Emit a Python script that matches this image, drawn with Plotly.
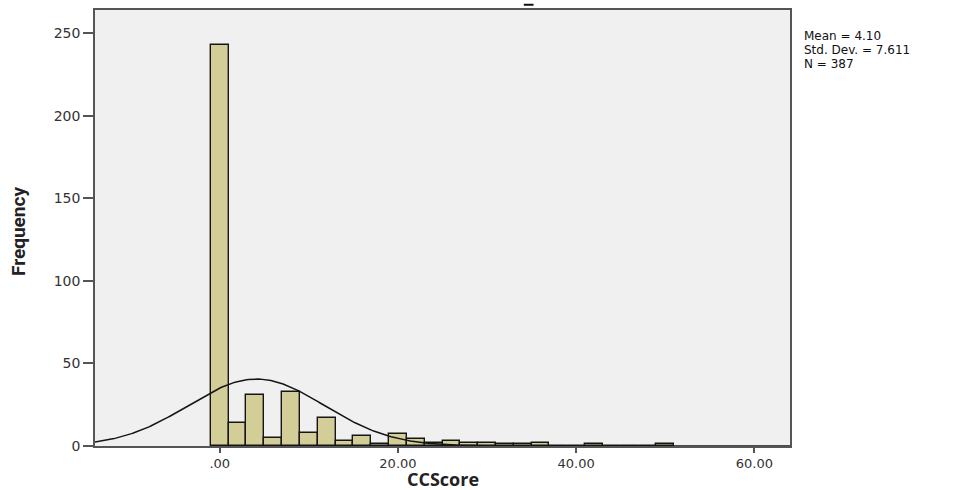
import numpy as np
import plotly.graph_objects as go

# Histogram of CCScore: bin centres (width 2) and frequencies
bin_centers = [0, 2, 4, 6, 8, 10, 12, 14, 16, 18, 20, 22, 24, 26, 28, 30,
               32, 34, 36, 38, 40, 42, 44, 46, 48, 50]
frequencies = [243, 14, 31, 5, 33, 8, 17, 3, 6, 1, 7, 4, 2, 3, 2, 2,
               1, 1, 2, 0, 0, 1, 0, 0, 0, 1]
bin_width = 2

# Summary statistics shown beside the chart
mean_value = 4.10
std_dev = 7.611
n_cases = 387

x_tick_values = [0, 20, 40, 60]
x_tick_labels = [".00", "20.00", "40.00", "60.00"]
y_tick_values = [0, 50, 100, 150, 200, 250]

x_range = [-14, 64]
y_range = [0, 264]

# Normal curve scaled to the histogram (N * bin width * pdf)
curve_x = np.linspace(x_range[0], x_range[1], 400)
curve_y = (n_cases * bin_width / (std_dev * np.sqrt(2 * np.pi))
           * np.exp(-0.5 * ((curve_x - mean_value) / std_dev) ** 2))

W, H = 960, 490
M_L, M_R, M_T, M_B = 95, 170, 10, 44

fig = go.Figure()
fig.add_trace(go.Bar(
    x=bin_centers, y=frequencies, width=bin_width,
    marker=dict(color="#D3CE97", line=dict(color="#151515", width=1.4)),
    showlegend=False, hoverinfo="x+y",
))
fig.add_trace(go.Scatter(
    x=curve_x, y=curve_y, mode="lines",
    line=dict(color="#151515", width=1.5),
    showlegend=False, hoverinfo="skip",
))

tick_font = dict(family="DejaVu Sans, Verdana, sans-serif", size=14, color="#333333")

fig.update_layout(
    width=W, height=H,
    margin=dict(l=M_L, r=M_R, t=M_T, b=M_B, autoexpand=False),
    paper_bgcolor="white",
    plot_bgcolor="#F0F0F0",
    bargap=0,
    xaxis=dict(
        range=x_range, tickvals=x_tick_values, ticktext=x_tick_labels,
        ticks="outside", ticklen=5, tickwidth=1.5, tickcolor="#555555",
        showgrid=False, zeroline=False, automargin=False,
        showline=True, linecolor="#555555", linewidth=1.5, mirror=True,
        tickfont=dict(tick_font, size=13),
    ),
    yaxis=dict(
        range=y_range, tickvals=y_tick_values,
        ticks="outside", ticklen=10, tickwidth=1.5, tickcolor="#555555",
        showgrid=False, zeroline=False, automargin=False,
        showline=True, linecolor="#555555", linewidth=1.5, mirror=True,
        tickfont=tick_font,
    ),
)

# Axis titles
fig.add_annotation(
    xref="paper", yref="paper", x=0.5, y=0, yanchor="middle",
    yshift=-(479 - (H - M_B)), text="<b>CCScore</b>", showarrow=False,
    borderpad=0,
    font=dict(family="Open Sans, sans-serif", size=18, color="#222222"),
)
fig.add_annotation(
    xref="paper", yref="paper", x=0, y=0.5, xanchor="center", yanchor="middle",
    xshift=-(M_L - 18), yshift=-4, text="<b>Frequency</b>", textangle=-90,
    showarrow=False,
    font=dict(family="Liberation Sans Narrow, Roboto, sans-serif", size=19, color="#222222"),
)

# Summary statistics, one line each with tight spacing
stats_lines = [f"Mean = {mean_value:.2f}",
               f"Std. Dev. = {std_dev:.3f}",
               f"N = {n_cases}"]
for i, line in enumerate(stats_lines):
    fig.add_annotation(
        xref="paper", yref="paper", x=1.0, y=1.0, xanchor="left", yanchor="middle",
        xshift=13, yshift=-(36 + 14 * i - M_T), text=line, showarrow=False,
        borderpad=0,
        font=dict(family="DejaVu Sans, Verdana, sans-serif", size=12, color="#111111"),
    )

# Fragment of the clipped chart title above the frame
fig.add_shape(type="line", xref="paper", yref="paper",
              x0=0.617, x1=0.631, y0=1.012, y1=1.012,
              line=dict(color="#111111", width=2))

fig.write_html("out.html")
